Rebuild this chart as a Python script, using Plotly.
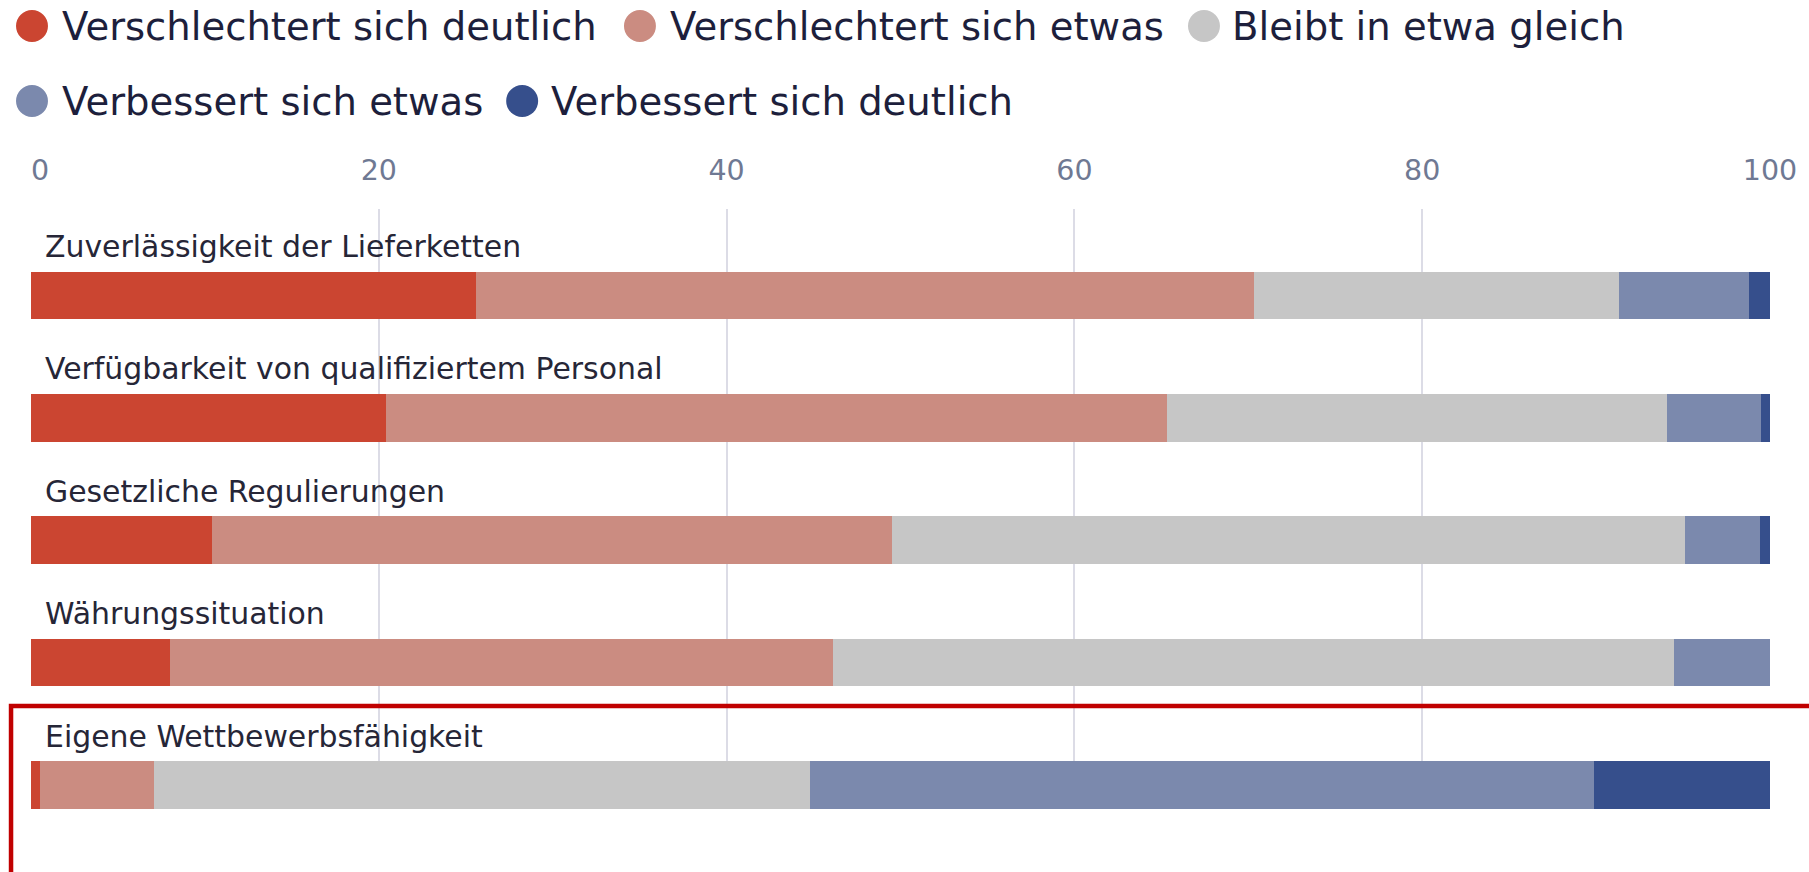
import plotly.graph_objects as go

# ---------------- data ----------------
categories = [
    "Zuverlässigkeit der Lieferketten",
    "Verfügbarkeit von qualifiziertem Personal",
    "Gesetzliche Regulierungen",
    "Währungssituation",
    "Eigene Wettbewerbsfähigkeit",
]
series_names = [
    "Verschlechtert sich deutlich",
    "Verschlechtert sich etwas",
    "Bleibt in etwa gleich",
    "Verbessert sich etwas",
    "Verbessert sich deutlich",
]
verschlechtert_deutlich = [25.6, 20.4, 10.4, 8.0, 0.5]
verschlechtert_etwas = [44.7, 44.9, 39.1, 38.1, 6.6]
bleibt_gleich = [21.0, 28.8, 45.6, 48.4, 37.7]
verbessert_etwas = [7.5, 5.4, 4.3, 5.5, 45.1]
verbessert_deutlich = [1.2, 0.5, 0.6, 0.0, 10.1]
series_values = [
    verschlechtert_deutlich,
    verschlechtert_etwas,
    bleibt_gleich,
    verbessert_etwas,
    verbessert_deutlich,
]
tick_values = [0, 20, 40, 60, 80, 100]
tick_labels = ["\u20070", "20", "40", "60", "80", "100"]

# ---------------- style ----------------
colors = ["#CB4531", "#CB8C81", "#C6C6C6", "#7B89AD", "#364F8C"]
FONT = "DejaVu Sans"
W, H = 1809, 872
L, T = 31, 209
R = W - 1773
B = H - 809
PW, PH = W - L - R, H - T - B


def px_x(px):
    """figure pixel x -> paper coordinate"""
    return (px - L) / PW


def px_y(py):
    """figure pixel y -> paper coordinate"""
    return (H - B - py) / PH


fig = go.Figure()
for name, vals, col in zip(series_names, series_values, colors):
    fig.add_trace(go.Bar(
        y=categories, x=vals, name=name, orientation="h",
        marker=dict(color=col, line=dict(width=0)),
        width=0.389, showlegend=False,
        hovertemplate="%{y}<br>" + name + ": %{x}<extra></extra>",
    ))

# category labels above each bar
annotations = []
for c in categories:
    annotations.append(dict(
        x=0, y=c, xref="x", yref="y", text=c, showarrow=False,
        xanchor="left", yanchor="middle", xshift=12, yshift=49,
        font=dict(family=FONT, size=29.9, color="#262637"),
    ))

# custom legend (round markers)
legend_pos = [  # (circle center x, center y, text start x) in pixels
    (32, 26, 62), (641, 26, 671), (1206, 26, 1234),
    (32, 101, 62), (523, 101, 552),
]
shapes = []
r = 16
for (cx, cy, tx), name, col in zip(legend_pos, series_names, colors):
    shapes.append(dict(
        type="circle", xref="paper", yref="paper",
        x0=px_x(cx - r), x1=px_x(cx + r), y0=px_y(cy + r), y1=px_y(cy - r),
        fillcolor=col, line=dict(width=0), layer="above",
    ))
    annotations.append(dict(
        x=px_x(tx - 2), y=px_y(cy), xref="paper", yref="paper", text=name,
        showarrow=False, xanchor="left", yanchor="middle",
        font=dict(family=FONT, size=38.6, color="#1d1f3c"),
    ))

# red highlight box around the last row
shapes.append(dict(
    type="rect", xref="paper", yref="paper",
    x0=px_x(11), x1=px_x(W + 30), y0=px_y(H + 30), y1=px_y(706),
    line=dict(color="#C00000", width=4.5), fillcolor="rgba(0,0,0,0)",
    layer="above",
))

fig.update_layout(
    width=W, height=H,
    margin=dict(l=L, r=R, t=T, b=B, pad=0),
    paper_bgcolor="white", plot_bgcolor="white",
    barmode="stack", bargap=0,
    showlegend=False,
    annotations=annotations, shapes=shapes,
    font=dict(family=FONT),
    xaxis=dict(
        side="top", range=[0, 100], tickvals=tick_values, ticktext=tick_labels,
        showgrid=True, gridcolor="#DCDCE6", gridwidth=1.5,
        zeroline=False, showline=False, ticks="", ticklabelstandoff=22,
        tickfont=dict(family=FONT, size=28.5, color="#6F7993"),
        fixedrange=True,
    ),
    yaxis=dict(
        type="category", categoryorder="array", categoryarray=categories,
        range=[4.196, -0.707], showticklabels=False, showgrid=False,
        zeroline=False, showline=False, ticks="", fixedrange=True,
    ),
)

# full-bleed page: remove the browser's default body margin
fig.write_html(
    "out.html",
    config={"displayModeBar": False},
    post_script="document.body.style.margin='0px';document.body.style.overflow='hidden';",
)
